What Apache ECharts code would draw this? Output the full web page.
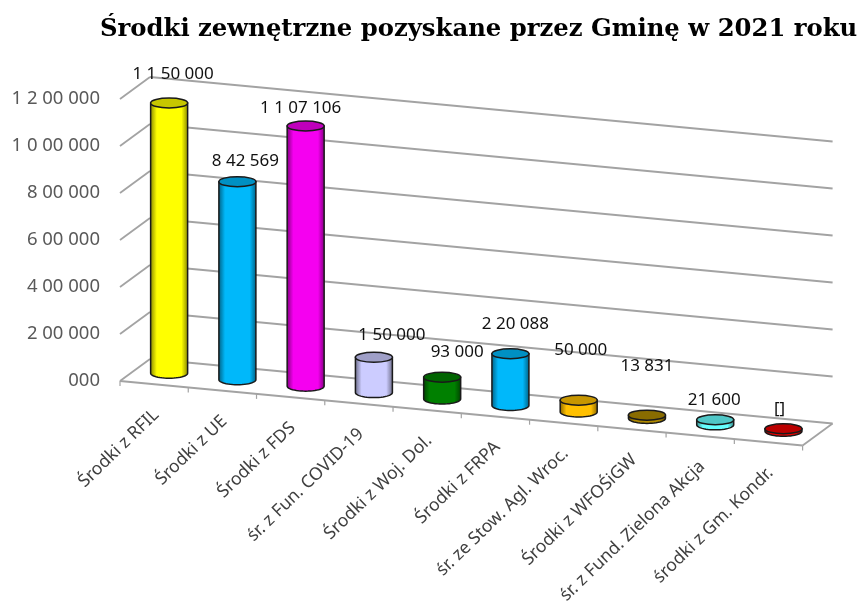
<!DOCTYPE html>
<html>
<head>
<meta charset="utf-8">
<style>
  html, body { margin: 0; padding: 0; background: #fff; }
  #chart { width: 861px; height: 605px; }
</style>
<script src="https://cdn.jsdelivr.net/npm/echarts@6/dist/echarts.min.js"></script>
</head>
<body>
<div id="chart"></div>
<script>
const titleText = 'Środki zewnętrzne pozyskane przez Gminę w 2021 roku'
const categories = [
  'Środki z RFIL', 'Środki z UE', 'Środki z FDS', 'śr. z Fun. COVID-19', 'Środki z Woj. Dol.',
  'Środki z FRPA', 'śr. ze Stow. Agl. Wroc.', 'Środki z WFOŚiGW', 'śr. z Fund. Zielona Akcja', 'środki z Gm. Kondr.'
]
const values = [1150000, 842569, 1107106, 150000, 93000, 220088, 50000, 13831, 21600, 11000]
const valueLabels = ['1 1 50 000', '8 42 569', '1 1 07 106', '1 50 000', '93 000', '2 20 088', '50 000', '13 831', '21 600', '[]']
const yTicks = [0, 200000, 400000, 600000, 800000, 1000000, 1200000]
const yTickLabels = ['000', '2 00 000', '4 00 000', '6 00 000', '8 00 000', '1 0 00 000', '1 2 00 000']

// styling, kept apart from the data
const barColors = ['#FFFF00', '#00B8FA', '#F500F0', '#CCCCFF', '#008000', '#00B8FA', '#FFC000', '#B08A00', '#66FFFF', '#F00000']
const labelShift = [[4, -29], [8, -21], [-5, -18], [18, -22], [15, -25], [5, -30], [2, -50], [0, -49], [-1, -20], [-4, -20]]

// fake 3D: the floor slopes down to the right, the walls sit behind it
const SHEAR = 0.0945
const DEPTH_X = 30
const DEPTH_Y = -22
const GRID_COLOR = '#A3A3A3'
const BAR_RX = 18.5
const BAR_RY = 5

function shade(hex, k) {
  const n = parseInt(hex.slice(1), 16)
  const c = [n >> 16, (n >> 8) & 255, n & 255].map(v => Math.round(v * k))
  return `rgb(${c[0]},${c[1]},${c[2]})`
}

function line(x1, y1, x2, y2, width) {
  return {
    type: 'line',
    shape: { x1, y1, x2, y2 },
    style: { stroke: GRID_COLOR, lineWidth: width || 1.8, fill: null }
  }
}

function renderWall(params, api) {
  const sys = params.coordSys
  const value = api.value(1)
  const y = api.coord([0, value])[1]
  const x0 = sys.x
  const x1 = sys.x + sys.width
  const rise = sys.width * SHEAR
  const children = [
    line(x0, y, x0 + DEPTH_X, y + DEPTH_Y),
    line(x0 + DEPTH_X, y + DEPTH_Y, x1 + DEPTH_X, y + DEPTH_Y + rise)
  ]
  if (value === 0) {
    children.push(line(x0, y, x1, y + rise))
    children.push(line(x1, y + rise, x1 + DEPTH_X, y + DEPTH_Y + rise))
    const step = sys.width / categories.length
    for (let i = 0; i <= categories.length; i++) {
      const tx = x0 + step * i
      const ty = y + step * i * SHEAR
      children.push(line(tx, ty, tx, ty + 5, 1.2))
    }
  }
  return { type: 'group', children }
}

function renderBar(params, api) {
  const sys = params.coordSys
  const i = api.value(0)
  const color = barColors[i]
  const p0 = api.coord([i, 0])
  const p1 = api.coord([i, api.value(1)])
  const cx = p0[0] + DEPTH_X / 2
  const drop = (p0[0] - sys.x) * SHEAR + DEPTH_Y / 2
  const baseY = p0[1] + drop
  const topY = p1[1] + drop

  const side = [[cx - BAR_RX, topY]]
  for (let a = 0; a <= 24; a++) {
    const t = Math.PI - (a / 24) * Math.PI
    side.push([cx + BAR_RX * Math.cos(t), baseY + BAR_RY * Math.sin(t)])
  }
  side.push([cx + BAR_RX, topY])

  const shift = labelShift[i]
  return {
    type: 'group',
    children: [
      {
        type: 'polygon',
        shape: { points: side },
        style: {
          fill: new echarts.graphic.LinearGradient(0, 0, 1, 0, [
            { offset: 0, color: shade(color, 0.5) },
            { offset: 0.18, color: color },
            { offset: 0.82, color: color },
            { offset: 1, color: shade(color, 0.5) }
          ]),
          stroke: '#1a1a1a',
          lineWidth: 1.5
        }
      },
      {
        type: 'ellipse',
        shape: { cx, cy: topY, rx: BAR_RX, ry: BAR_RY },
        style: { fill: shade(color, 0.78), stroke: '#1a1a1a', lineWidth: 1.5 }
      },
      {
        type: 'text',
        z2: 10,
        style: {
          x: cx + shift[0],
          y: topY + shift[1],
          text: valueLabels[i],
          fill: '#111',
          font: '17px "Noto Sans"',
          textAlign: 'center',
          textVerticalAlign: 'middle'
        }
      }
    ]
  }
}

function renderCategoryLabel(params, api) {
  const sys = params.coordSys
  const i = api.value(0)
  const p = api.coord([i, 0])
  return {
    type: 'text',
    x: p[0] + 2,
    y: p[1] + (p[0] - sys.x) * SHEAR + 28,
    rotation: 44 * Math.PI / 180,
    style: {
      x: 0,
      y: 0,
      text: categories[i],
      fill: '#404040',
      font: '17.5px "Noto Sans"',
      textAlign: 'right',
      textVerticalAlign: 'middle'
    }
  }
}

const chart = echarts.init(document.getElementById('chart'))
chart.setOption({
  animation: false,
  backgroundColor: '#fff',
  title: {
    text: titleText,
    left: 95,
    top: 13,
    textStyle: {
      color: '#000',
      fontFamily: 'DejaVu Serif',
      fontWeight: 'bold',
      fontSize: 24.3
    }
  },
  grid: { left: 120, top: 99, width: 682.6, height: 282 },
  xAxis: {
    type: 'category',
    data: categories,
    axisLine: { show: false },
    axisTick: { show: false },
    axisLabel: { show: false }
  },
  yAxis: {
    type: 'value',
    min: 0,
    max: 1200000,
    interval: 200000,
    axisLine: { show: false },
    axisTick: { show: false },
    splitLine: { show: false },
    axisLabel: {
      margin: 20,
      color: '#595959',
      fontFamily: 'Noto Sans',
      fontSize: 18.5,
      formatter: v => yTickLabels[yTicks.indexOf(v)]
    }
  },
  series: [
    {
      type: 'custom',
      renderItem: renderWall,
      encode: { x: 0, y: 1 },
      data: yTicks.map(v => [0, v]),
      silent: true,
      z: 1
    },
    {
      type: 'custom',
      renderItem: renderBar,
      encode: { x: 0, y: 1 },
      data: values.map((v, i) => [i, v]),
      z: 2
    },
    {
      type: 'custom',
      renderItem: renderCategoryLabel,
      encode: { x: 0 },
      data: categories.map((c, i) => [i, 0]),
      silent: true,
      z: 3
    }
  ]
})
</script>
</body>
</html>
